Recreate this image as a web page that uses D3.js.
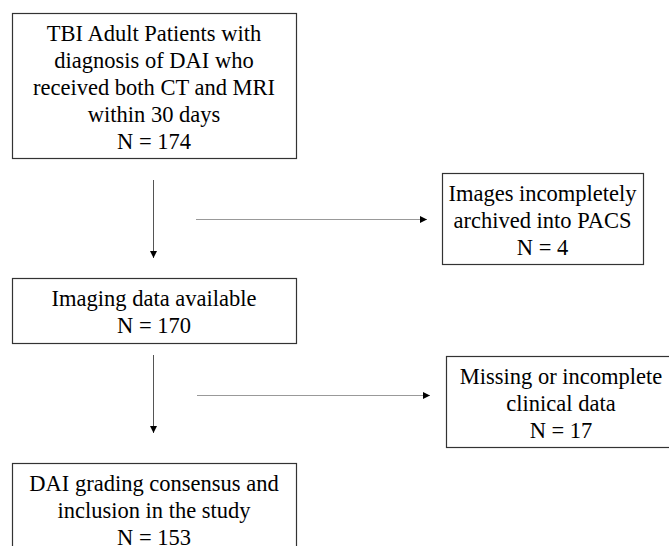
<!DOCTYPE html>
<html>
<head>
<meta charset="utf-8">
<script src="https://cdn.jsdelivr.net/npm/d3@7"></script>
<style>
  html, body { margin: 0; padding: 0; background: #fff; }
  svg { display: block; }
</style>
</head>
<body>
<svg id="chart"></svg>
<script>
// flow steps (main column) and exclusions (right column)
const stepLabels = [
  ['TBI Adult Patients with', 'diagnosis of DAI who', 'received both CT and MRI', 'within 30 days'],
  ['Imaging data available'],
  ['DAI grading consensus and', 'inclusion in the study']
];
const stepCounts = [174, 170, 153];

const excludedLabels = [
  ['Images incompletely', 'archived into PACS'],
  ['Missing or incomplete', 'clinical data']
];
const excludedCounts = [4, 17];

const width = 669, height = 546;
const lineGap = 27;

const svg = d3.select('#chart')
  .attr('width', width)
  .attr('height', height)
  .attr('viewBox', `0 0 ${width} ${height}`);

const defs = svg.append('defs');
defs.append('marker')
  .attr('id', 'head')
  .attr('viewBox', '0 0 10 10')
  .attr('refX', 10).attr('refY', 5)
  .attr('markerWidth', 7).attr('markerHeight', 7)
  .attr('markerUnits', 'userSpaceOnUse')
  .attr('orient', 'auto')
  .append('path')
  .attr('d', 'M0,0L10,5L0,10z')
  .attr('fill', '#000');

// box geometry: [x, y, w, h]
const stepBoxes = [
  [12, 13, 284, 145],
  [12, 278, 284, 65],
  [12, 463, 284, 110]
];
const excludedBoxes = [
  [442, 173, 201, 91],
  [446, 356, 230, 91]
];

function drawBox(rect, lines, count) {
  const [x, y, w, h] = rect;
  const g = svg.append('g');
  g.append('rect')
    .attr('x', x + 0.5).attr('y', y + 0.5)
    .attr('width', w).attr('height', h)
    .attr('fill', '#fff')
    .attr('stroke', '#333')
    .attr('stroke-width', 1.2);
  const all = lines.concat([`N = ${count}`]);
  const top = y + 20;
  g.selectAll('text')
    .data(all)
    .join('text')
    .attr('x', x + w / 2)
    .attr('y', (d, i) => top + i * lineGap)
    .attr('dy', '0.35em')
    .attr('text-anchor', 'middle')
    .attr('font-family', '"Liberation Serif", "Times New Roman", serif')
    .attr('font-size', 22.5)
    .attr('fill', '#000')
    .text(d => d);
}

stepBoxes.forEach((b, i) => drawBox(b, stepLabels[i], stepCounts[i]));
excludedBoxes.forEach((b, i) => drawBox(b, excludedLabels[i], excludedCounts[i]));

// vertical arrows between steps
const downArrows = [[153, 180, 258], [153, 355, 433]];
downArrows.forEach(([x, y1, y2]) => {
  svg.append('line')
    .attr('x1', x + 0.5).attr('y1', y1)
    .attr('x2', x + 0.5).attr('y2', y2)
    .attr('stroke', '#555')
    .attr('stroke-width', 1)
    .attr('marker-end', 'url(#head)');
});

// horizontal arrows to exclusions
const sideArrows = [[219, 196, 427], [395, 197, 430]];
sideArrows.forEach(([y, x1, x2]) => {
  svg.append('line')
    .attr('x1', x1).attr('y1', y + 0.5)
    .attr('x2', x2).attr('y2', y + 0.5)
    .attr('stroke', '#999')
    .attr('stroke-width', 1)
    .attr('marker-end', 'url(#head)');
});
</script>
</body>
</html>
